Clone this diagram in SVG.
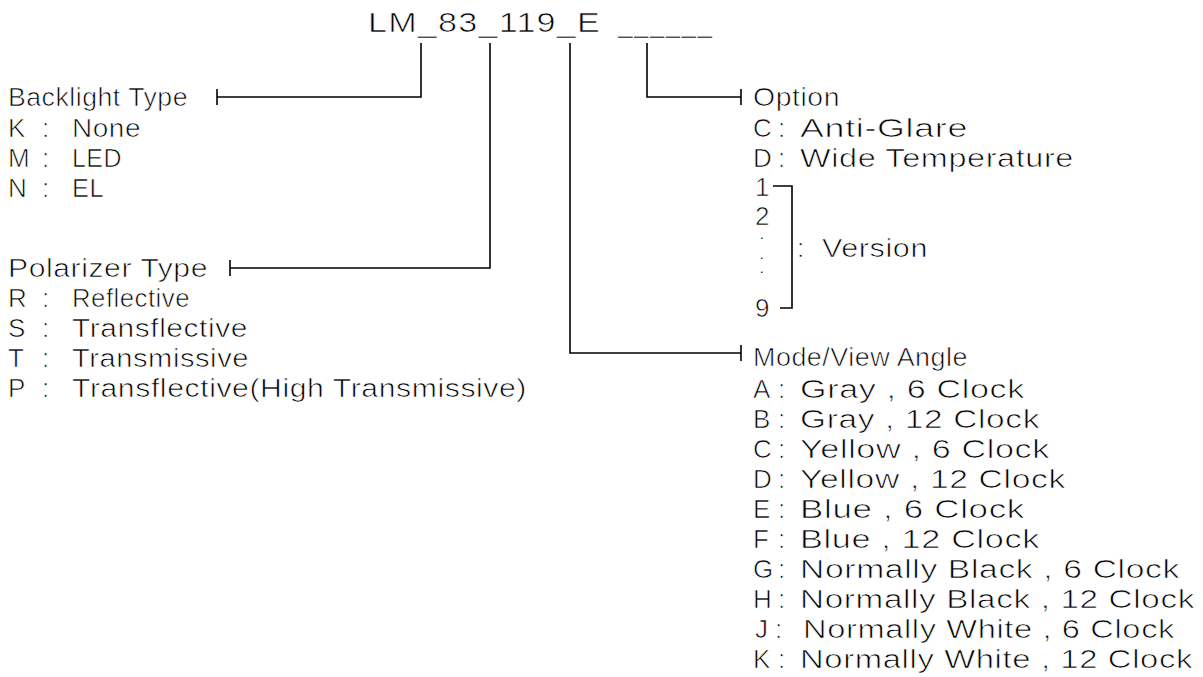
<svg xmlns="http://www.w3.org/2000/svg" width="1203" height="677" viewBox="0 0 1203 677">
<style>
text{font-family:"Liberation Sans",Arial,sans-serif;font-size:26px;fill:#000;letter-spacing:0.5px;stroke:#fff;stroke-width:0.7px}
.title{font-size:28px;letter-spacing:1px}
.dot{font-size:9px;font-weight:bold;letter-spacing:0;stroke:none}
.ln{stroke:#000;stroke-width:1.6;fill:none}
</style>
<rect width="1203" height="677" fill="#fff"/>
<g id="title">
<text class="title" x="368" y="32" textLength="233" lengthAdjust="spacingAndGlyphs">LM_83_119_E</text>
<text class="title" x="618" y="32" textLength="95" lengthAdjust="spacingAndGlyphs">______</text>
</g>
<g id="connectors">
<polyline class="ln" points="421,43 421,97 217,97"/>
<line class="ln" x1="217" y1="89" x2="217" y2="105"/>
<polyline class="ln" points="490,43 490,268 230,268"/>
<line class="ln" x1="230" y1="260" x2="230" y2="276"/>
<polyline class="ln" points="647,43 647,97 741,97"/>
<line class="ln" x1="741" y1="89" x2="741" y2="105"/>
<polyline class="ln" points="570,43 570,353 741,353"/>
<line class="ln" x1="741" y1="345" x2="741" y2="361"/>
</g>
<g id="backlight">
<text x="8" y="106" textLength="180" lengthAdjust="spacingAndGlyphs">Backlight Type</text>
<text y="137"><tspan x="8">K</tspan> <tspan x="42">:</tspan> <tspan x="72" textLength="69" lengthAdjust="spacingAndGlyphs">None</tspan></text>
<text y="167"><tspan x="8">M</tspan> <tspan x="42">:</tspan> <tspan x="72" textLength="50" lengthAdjust="spacingAndGlyphs">LED</tspan></text>
<text y="197"><tspan x="8">N</tspan> <tspan x="42">:</tspan> <tspan x="72" textLength="32" lengthAdjust="spacingAndGlyphs">EL</tspan></text>
</g>
<g id="polarizer">
<text x="8" y="277" textLength="200" lengthAdjust="spacingAndGlyphs">Polarizer Type</text>
<text y="307"><tspan x="8">R</tspan> <tspan x="42">:</tspan> <tspan x="72" textLength="118" lengthAdjust="spacingAndGlyphs">Reflective</tspan></text>
<text y="337"><tspan x="8">S</tspan> <tspan x="42">:</tspan> <tspan x="72" textLength="176" lengthAdjust="spacingAndGlyphs">Transflective</tspan></text>
<text y="367"><tspan x="8">T</tspan> <tspan x="42">:</tspan> <tspan x="72" textLength="177" lengthAdjust="spacingAndGlyphs">Transmissive</tspan></text>
<text y="397"><tspan x="8">P</tspan> <tspan x="42">:</tspan> <tspan x="72" textLength="455" lengthAdjust="spacingAndGlyphs">Transflective(High Transmissive)</tspan></text>
</g>
<g id="option">
<text x="753" y="106" textLength="87" lengthAdjust="spacingAndGlyphs">Option</text>
<text y="137"><tspan x="753">C</tspan> <tspan x="778">:</tspan> <tspan x="800" textLength="168" lengthAdjust="spacingAndGlyphs">Anti-Glare</tspan></text>
<text y="167"><tspan x="753">D</tspan> <tspan x="778">:</tspan> <tspan x="800" textLength="274" lengthAdjust="spacingAndGlyphs">Wide Temperature</tspan></text>
<text x="755" y="196">1</text>
<text x="755" y="225">2</text>
<text class="dot"><tspan x="760.5" y="239">.</tspan><tspan x="760.5" y="259">.</tspan><tspan x="760.5" y="273">.</tspan></text>
<text x="755" y="317">9</text>
<polyline class="ln" points="773,186 792,186 792,308 780,308"/>
<text y="257"><tspan x="797">:</tspan> <tspan x="822" textLength="106" lengthAdjust="spacingAndGlyphs">Version</tspan></text>
</g>
<g id="mode">
<text x="753" y="366" textLength="215" lengthAdjust="spacingAndGlyphs">Mode/View Angle</text>
<text y="398"><tspan x="753">A</tspan> <tspan x="778">:</tspan> <tspan x="800" textLength="225" lengthAdjust="spacingAndGlyphs">Gray , 6 Clock</tspan></text>
<text y="428"><tspan x="753">B</tspan> <tspan x="778">:</tspan> <tspan x="800" textLength="240" lengthAdjust="spacingAndGlyphs">Gray , 12 Clock</tspan></text>
<text y="458"><tspan x="753">C</tspan> <tspan x="778">:</tspan> <tspan x="800" textLength="250" lengthAdjust="spacingAndGlyphs">Yellow , 6 Clock</tspan></text>
<text y="488"><tspan x="753">D</tspan> <tspan x="778">:</tspan> <tspan x="800" textLength="266" lengthAdjust="spacingAndGlyphs">Yellow , 12 Clock</tspan></text>
<text y="518"><tspan x="753">E</tspan> <tspan x="778">:</tspan> <tspan x="800" textLength="225" lengthAdjust="spacingAndGlyphs">Blue , 6 Clock</tspan></text>
<text y="548"><tspan x="753">F</tspan> <tspan x="778">:</tspan> <tspan x="800" textLength="240" lengthAdjust="spacingAndGlyphs">Blue , 12 Clock</tspan></text>
<text y="578"><tspan x="753">G</tspan> <tspan x="778">:</tspan> <tspan x="800" textLength="380" lengthAdjust="spacingAndGlyphs">Normally Black , 6 Clock</tspan></text>
<text y="608"><tspan x="753">H</tspan> <tspan x="778">:</tspan> <tspan x="800" textLength="395" lengthAdjust="spacingAndGlyphs">Normally Black , 12 Clock</tspan></text>
<text y="638"><tspan x="755">J</tspan> <tspan x="775">:</tspan> <tspan x="803" textLength="372" lengthAdjust="spacingAndGlyphs">Normally White , 6 Clock</tspan></text>
<text y="668"><tspan x="753">K</tspan> <tspan x="778">:</tspan> <tspan x="800" textLength="393" lengthAdjust="spacingAndGlyphs">Normally White , 12 Clock</tspan></text>
</g>
</svg>
